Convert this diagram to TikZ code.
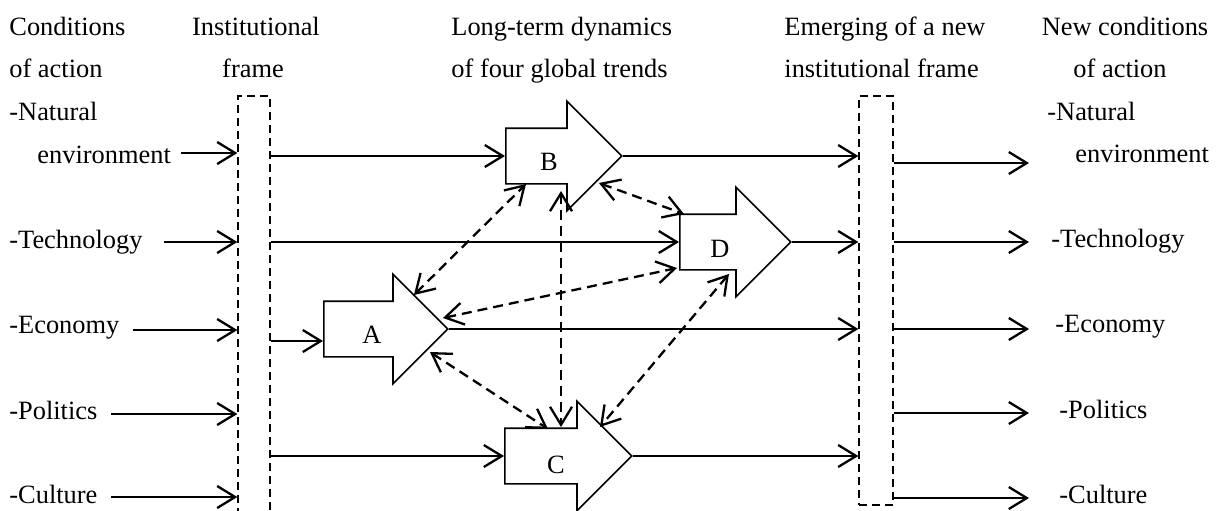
\documentclass[tikz,border=0pt]{standalone}
\usepackage{fontspec}
\setmainfont{Liberation Serif}
\usepackage{tikz}
\usetikzlibrary{arrows.meta, positioning, calc, shapes.arrows, fit}

\begin{document}
\begin{tikzpicture}[x=0.5pt, y=-0.5pt,
    txt/.style={inner sep=0pt, font=\fontsize{13.2}{16}\selectfont},
    instframe/.style={draw, dash pattern=on 4pt off 2.5pt, line width=0.65pt, inner sep=0pt},
    trend/.style={single arrow, draw, line width=0.8pt, single arrow tip angle=90, single arrow head extend=13.5pt, minimum width=54pt, inner xsep=0pt, inner ysep=13.5pt, anchor=tail},
    flow/.style={line width=1.15pt, -{Straight Barb[length=9pt, width=11pt]}},
    link/.style={line width=1.15pt, dash pattern=on 5pt off 3pt, {Straight Barb[length=9pt, width=11pt]}-{Straight Barb[length=9pt, width=11pt]}}]
    \useasboundingbox (0,0) rectangle (1218,510);
    \node[txt, anchor=base west] (cond1) at (9,35) {Conditions};
    \node[txt, anchor=base west] (cond2) at (9,77) {of action};
    \node[txt, anchor=base] (inst1) at (256,35) {Institutional};
    \node[txt, anchor=base] (inst2) at (253,77) {frame};
    \node[txt, anchor=base west] (dyn1) at (451,35) {Long-term dynamics};
    \node[txt, anchor=base west] (dyn2) at (451,77) {of four global trends};
    \node[txt, anchor=base west] (emerg1) at (784,35) {Emerging of a new};
    \node[txt, anchor=base west] (emerg2) at (784,77) {institutional frame};
    \node[txt, anchor=base] (newc1) at (1125,35) {New conditions};
    \node[txt, anchor=base] (newc2) at (1120,77) {of action};

    \node[txt, anchor=base west] (lNat) at (9,120) {-Natural};
    \node[txt, anchor=base west] (lEnv) at (37,163) {environment};
    \node[txt, anchor=base west] (lTech) at (9,248) {-Technology};
    \node[txt, anchor=base west] (lEcon) at (9,333) {-Economy};
    \node[txt, anchor=base west] (lPol) at (9,419) {-Politics};
    \node[txt, anchor=base west] (lCult) at (9,503) {-Culture};

    \node[txt, anchor=base west] (rNat) at (1047,120) {-Natural};
    \node[txt, anchor=base west] (rEnv) at (1075,162) {environment};
    \node[txt, anchor=base west] (rTech) at (1051,247) {-Technology};
    \node[txt, anchor=base west] (rEcon) at (1055,332) {-Economy};
    \node[txt, anchor=base west] (rPol) at (1059,418) {-Politics};
    \node[txt, anchor=base west] (rCult) at (1059,503) {-Culture};

    \node[instframe, fit={(238,96) (270,530)}] (frameL) {};
    \node[instframe, fit={(859,96) (893,505)}] (frameR) {};

    \node[trend, minimum height=58pt] (B) at (505,156) {};
    \node[trend, minimum height=55.5pt] (D) at (679,242) {};
    \node[trend, minimum height=62pt] (A) at (323,329) {};
    \node[trend, minimum height=63.5pt] (C) at (504,456) {};
    \node[txt, anchor=base] (Blbl) at (549,170) {B};
    \node[txt, anchor=base] (Albl) at (372,343) {A};
    \node[txt, anchor=base] (Clbl) at (556,473) {C};
    \node[txt, anchor=base] (Dlbl) at (720,257) {D};

    \coordinate (inEnv) at (181,153);
    \coordinate (inTech) at (164,242);
    \coordinate (inEcon) at (133,330);
    \coordinate (inPol) at (111,414);
    \coordinate (inCult) at (111,497);
    \draw[flow] (inEnv) -- (inEnv -| frameL.west);
    \draw[flow] (inTech) -- (inTech -| frameL.west);
    \draw[flow] (inEcon) -- (inEcon -| frameL.west);
    \draw[flow] (inPol) -- (inPol -| frameL.west);
    \draw[flow] (inCult) -- (inCult -| frameL.west);

    \coordinate (inA) at ($(A.tail)+(0,12)$);
    \draw[flow] (frameL.east |- B.tail) -- (B.tail);
    \draw[flow] (frameL.east |- D.tail) -- (D.tail);
    \draw[flow] (frameL.east |- inA) -- (inA);
    \draw[flow] (frameL.east |- C.tail) -- (C.tail);

    \draw[flow] (B.tip) -- (B.tip -| frameR.west);
    \draw[flow] (D.tip) -- (D.tip -| frameR.west);
    \draw[flow] (A.tip) -- (A.tip -| frameR.west);
    \draw[flow] (C.tip) -- (C.tip -| frameR.west);

    \coordinate (outEnv) at (1029,163);
    \coordinate (outTech) at (1029,242);
    \coordinate (outEcon) at (1029,329);
    \coordinate (outPol) at (1029,413);
    \coordinate (outCult) at (1029,498);
    \draw[flow] (frameR.east |- outEnv) -- (outEnv);
    \draw[flow] (frameR.east |- outTech) -- (outTech);
    \draw[flow] (frameR.east |- outEcon) -- (outEcon);
    \draw[flow] (frameR.east |- outPol) -- (outPol);
    \draw[flow] (frameR.east |- outCult) -- (outCult);

    \draw[link] ($(A.tip)+(-35,-34)$) -- ($(B.tail)+(21,28)$);
    \draw[link] ($(B.tail)+(56,35)$) -- ($(C.tail)+(57,-29)$);
    \draw[link] ($(A.tip)+(-19,23)$) -- ($(C.tail)+(44,-27)$);
    \draw[link] ($(A.tip)+(-6,-11)$) -- ($(D.tail)+(-2,26)$);
    \draw[link] ($(B.tip)+(-24,27)$) -- ($(D.tail)+(5,-28)$);
    \draw[link] ($(D.tip)+(-63,32)$) -- ($(C.tip)+(-33,-29)$);
\end{tikzpicture}
\end{document}
